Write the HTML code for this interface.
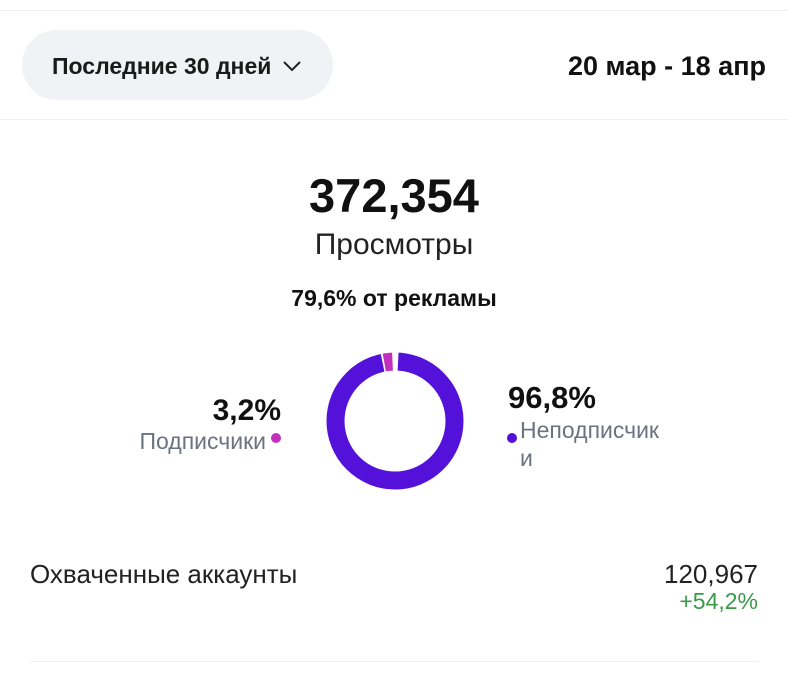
<!DOCTYPE html>
<html><head><meta charset="utf-8"><style>
body{margin:0;width:788px;height:699px;background:#fff;font-family:"Liberation Sans","Noto Sans CJK SC",sans-serif;color:#111;position:relative;overflow:hidden}
.a{position:absolute;white-space:nowrap;line-height:1}
.hr{position:absolute;left:0;width:788px;height:1px;background:#eeeff1}
</style></head><body>
<div class="hr" style="top:10px"></div>
<div class="a" style="left:22px;top:30px;width:311px;height:70px;border-radius:35px;background:#f0f2f5"></div>
<div class="a" style="left:52px;top:55px;font-size:23px;font-weight:bold;color:#1a1a1a">Последние 30 дней</div>
<svg class="a" style="left:282px;top:59px" width="20" height="14"><polyline points="2,3 10,11 18,3" fill="none" stroke="#222" stroke-width="2"/></svg>
<div class="a" style="right:22px;top:53px;font-size:27px;font-weight:bold">20 мар - 18 апр</div>
<div class="hr" style="top:119px"></div>
<div class="a" style="left:0;width:788px;text-align:center;top:172px;font-size:47px;font-weight:bold">372,354</div>
<div class="a" style="left:0;width:788px;text-align:center;top:230px;font-size:30px;color:#222">Просмотры</div>
<div class="a" style="left:0;width:788px;text-align:center;top:287px;font-size:23px;font-weight:bold">79,6% от рекламы</div>
<svg class="a" style="left:320px;top:346px" width="150" height="150">
<circle cx="75" cy="75" r="59.5" fill="none" stroke="#5411d9" stroke-width="18"/>
<path d="M 71.9 15.6 A 59.5 59.5 0 0 0 62.6 16.8" fill="none" stroke="#fff" stroke-width="19"/>
<path d="M 71.9 15.6 A 59.5 59.5 0 0 1 78.1 15.6" fill="none" stroke="#fff" stroke-width="19"/>
<path d="M 72.5 15.6 A 59.5 59.5 0 0 0 64.3 16.5" fill="none" stroke="#c12fbd" stroke-width="18"/>
</svg>
<div class="a" style="right:507px;top:396px;font-size:30px;font-weight:bold">3,2%</div>
<div class="a" style="right:522px;top:430px;font-size:23px;color:#6b7280">Подписчики</div>
<div class="a" style="left:271px;top:433px;width:10px;height:10px;border-radius:50%;background:#c12fbd"></div>
<div class="a" style="left:508px;top:382px;font-size:31px;font-weight:bold">96,8%</div>
<div class="a" style="left:507px;top:433px;width:10px;height:10px;border-radius:50%;background:#5411d9"></div>
<div class="a" style="left:520px;top:416px;font-size:23px;color:#6b7280;line-height:28px">Неподписчик<br>и</div>
<div class="a" style="left:30px;top:561px;font-size:26px;color:#222">Охваченные аккаунты</div>
<div class="a" style="right:30px;top:561px;font-size:26px;color:#222">120,967</div>
<div class="a" style="right:30px;top:590px;font-size:23px;color:#3a9a4a">+54,2%</div>
<div class="hr" style="top:661px;left:30px;width:728px"></div>
</body></html>
